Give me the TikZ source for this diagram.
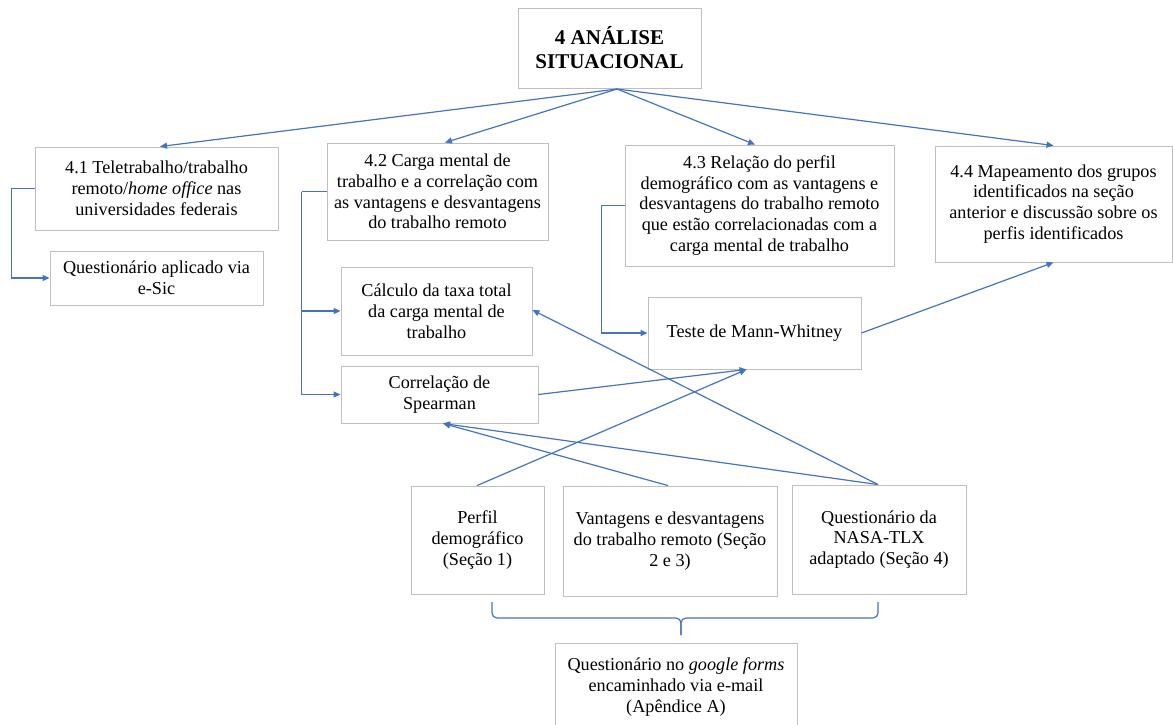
\documentclass[tikz,border=0pt]{standalone}
\usepackage{fontspec}
\setmainfont{Liberation Serif}
\usetikzlibrary{arrows.meta}
\definecolor{boxgray}{HTML}{BFBFBF}
\definecolor{linkblue}{HTML}{4472C4}
\begin{document}
\begin{tikzpicture}[x=1pt,y=-1pt,
  box/.style={draw=boxgray,line width=0.9pt,align=center,inner sep=0pt,
    font=\fontsize{18.2}{20.8}\selectfont},
  link/.style={draw=linkblue,line width=1.2pt,-{Triangle[length=7pt,width=6pt]}},
  plain/.style={draw=linkblue,line width=1.2pt}]
\useasboundingbox (0,0) rectangle (1173,724);

% title
\node[box,minimum width=183,minimum height=80,
  font=\fontsize{21}{24}\selectfont\bfseries] (top) at (609.5,48)
  {4 ANÁLISE\\SITUACIONAL};
\coordinate (hub) at (617,89);

% section boxes
\node[box,minimum width=243,minimum height=83] (n41) at (156.5,188.5)
  {4.1 Teletrabalho/trabalho\\remoto/\textit{home office} nas\\universidades federais};
\node[box,minimum width=221,minimum height=97] (n42) at (437.5,191.5)
  {4.2 Carga mental de\\trabalho e a correlação com\\as vantagens e desvantagens\\do trabalho remoto};
\node[box,minimum width=269,minimum height=121] (n43) at (759.5,205.5)
  {4.3 Relação do perfil\\demográfico com as vantagens e\\desvantagens do trabalho remoto\\que estão correlacionadas com a\\carga mental de trabalho};
\node[box,minimum width=237,minimum height=116] (n44) at (1053.5,204)
  {4.4 Mapeamento dos grupos\\identificados na seção\\anterior e discussão sobre os\\perfis identificados};

% methods
\node[box,minimum width=213,minimum height=54] (esic) at (156.5,278)
  {Questionário aplicado via\\e-Sic};
\node[box,minimum width=191,minimum height=88] (calc) at (436.5,311)
  {Cálculo da taxa total\\da carga mental de\\trabalho};
\node[box,minimum width=197,minimum height=57] (spear) at (439.5,394.5)
  {Correlação de\\Spearman};
\node[box,minimum width=213,minimum height=72] (mann) at (754.5,333)
  {Teste de Mann-Whitney};

% questionnaire sections
\node[box,minimum width=133,minimum height=108] (perfil) at (477.5,540)
  {Perfil\\demográfico\\(Seção 1)};
\node[box,minimum width=214,minimum height=110] (vant) at (670,541)
  {Vantagens e desvantagens\\do trabalho remoto (Seção\\2 e 3)};
\node[box,minimum width=174,minimum height=109] (nasa) at (879,539.5)
  {Questionário da\\NASA-TLX\\adaptado (Seção 4)};
\node[box,minimum width=242,minimum height=88] (forms) at (676,687)
  {Questionário no \textit{google forms}\\encaminhado via e-mail\\(Apêndice A)};

% title to sections
\draw[link] (hub) -- ([xshift=3.5pt]n41.north);
\draw[link] (hub) -- ([xshift=7.5pt]n42.north);
\draw[link] (hub) -- ([xshift=-4.5pt]n43.north);
\draw[link] (hub) -- (n44.north);

% sections to methods
\draw[link] (n41.west) -- ++(-23,0) |- (esic.west);
\draw[plain] (n42.west) -- ++(-25,0) coordinate (j42);
\draw[link] (j42) |- (calc.west);
\draw[link] (j42) |- (spear.west);
\draw[link] (n43.west) -- ++(-23,0) |- (mann.west);
\draw[link] (mann.east) -- (n44.south);

% data flows
\draw[link] (spear.east) -- ([xshift=-8pt]mann.south);
\draw[link] ([xshift=-0.5pt]perfil.north) -- ([xshift=-8pt]mann.south);
\draw[link] ([xshift=-2pt]vant.north) -- ([xshift=3.5pt]spear.south);
\draw[link] ([xshift=-1pt]nasa.north) -- ([xshift=3.5pt]spear.south);
\draw[link] ([xshift=-1pt]nasa.north) -- ([yshift=1pt]calc.east);

% brace grouping the questionnaire sections
\coordinate (bl) at (492,602);
\coordinate (br) at (878,602);
\coordinate (bt) at (681,635);
\draw[plain,rounded corners=5pt] (bl) -- (492,618) -- (681,618) -- (bt);
\draw[plain,rounded corners=5pt] (br) -- (878,618) -- (681,618) -- (bt);
\end{tikzpicture}
\end{document}
